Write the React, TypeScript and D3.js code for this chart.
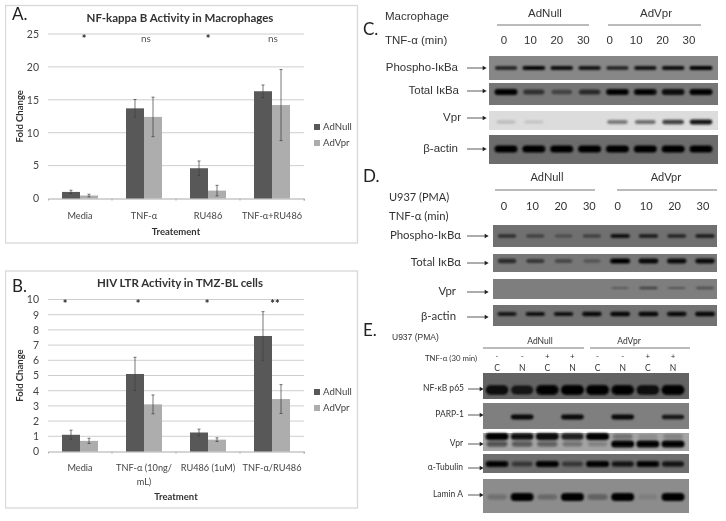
import { useEffect, useRef } from 'react';
import * as d3 from 'd3';

const W = 726
const H = 521

// panel A
const catsA = ['Media', 'TNF-α', 'RU486', 'TNF-α+RU486']
const nullA = [1, 13.7, 4.6, 16.3]
const vprA = [0.45, 12.4, 1.2, 14.2]
const nullErrA = [0.25, 1.35, 1.1, 0.95]
const vprErrA = [0.2, 3, 0.8, 5.4]
const sigA = ['*', 'ns', '*', 'ns']

// panel B
const catsB = ['Media', 'TNF-α (10ng/\nmL)', 'RU486 (1uM)', 'TNF-α/RU486']
const nullB = [1.1, 5.1, 1.25, 7.6]
const vprB = [0.7, 3.1, 0.78, 3.45]
const nullErrB = [0.3, 1.1, 0.22, 1.6]
const vprErrB = [0.17, 0.62, 0.12, 0.95]
const sigB = ['*', '*', '*', '**']

// blot lanes, band strength 0-1 by lane
const minutes = ['0', '10', '20', '30', '0', '10', '20', '30']
const signsE = ['-', '-', '+', '+', '-', '-', '+', '+']
const fractionsE = ['C', 'N', 'C', 'N', 'C', 'N', 'C', 'N']

const phosphoC = [0.8, 0.95, 0.9, 0.85, 0.8, 0.85, 0.9, 1]
const totalC = [1, 0.6, 0.45, 0.65, 0.95, 0.95, 0.9, 1]
const vprC = [0.15, 0.12, 0, 0, 0.45, 0.5, 0.7, 0.9]
const actinC = [1, 1, 1, 1, 1, 1, 1, 1]

const phosphoD = [0.6, 0.5, 0.35, 0.5, 0.85, 0.8, 0.7, 0.8]
const totalD = [0.65, 0.55, 0.4, 0.3, 1, 0.95, 0.9, 0.9]
const vprD = [0, 0, 0, 0, 0.3, 0.5, 0.35, 0.4]
const actinD = [0.8, 0.85, 0.85, 0.9, 0.95, 0.95, 0.9, 0.95]

const p65E = [0.9, 0.8, 0.95, 1, 1, 0.95, 0.9, 1]
const parpE = [0, 0.95, 0, 0.95, 0, 0.95, 0, 0.85]
const vprE = [0.5, 0.45, 0.4, 0.3, 0.2, 1, 1, 1]
const vprTopE = [1, 0.9, 0.95, 0.8, 1, 0.3, 0.15, 0.2]
const tubulinE = [0.95, 0.5, 1, 0.5, 1, 0.8, 0.95, 0.8]
const laminE = [0.2, 1, 0.25, 1, 0.3, 1, 0.1, 1]

interface ChartProps {
  top: number
  bottom: number
  boxTop: number
  boxBottom: number
  yMax: number
  ticks: number
  cats: string[]
  a: number[]
  b: number[]
  aErr: number[]
  bErr: number[]
  sig: string[]
  sigDx: number[]
  sigY: number
  title: string
  titleY: number
  letter: string
  letterY: number
  xLabel: string
  xLabelY: number
  catY: number
  legendY: number
}

const BarChart = (p: ChartProps) => {
  const ref = useRef<SVGGElement>(null)

  useEffect(() => {
    if (!ref.current) return
    const svg = d3.select(ref.current)
    svg.selectAll('*').remove()

    const x = d3.scaleBand().domain(p.cats).range([48, 304])
    const inner = d3.scaleBand().domain(['a', 'b']).range([0, 36])
    const y = d3.scaleLinear().domain([0, p.yMax]).range([p.bottom, p.top])
    const mid = (c: string) => (x(c) as number) + x.bandwidth() / 2

    // outer box
    svg.append('rect')
      .attr('x', 5.5).attr('y', p.boxTop)
      .attr('width', 352).attr('height', p.boxBottom - p.boxTop)
      .attr('fill', 'white').attr('stroke', '#d8d8d8').attr('stroke-width', 1.3)

    // gridlines
    svg.selectAll('.grid')
      .data(y.ticks(p.ticks).filter(d => d > 0))
      .enter().append('line')
      .attr('x1', 48).attr('x2', 304)
      .attr('y1', d => y(d)).attr('y2', d => y(d))
      .attr('stroke', '#c8c8c8').attr('stroke-width', 0.9)

    // y axis
    const yAxis = d3.axisLeft(y).ticks(p.ticks).tickSize(0).tickPadding(9)
    const yg = svg.append('g').attr('transform', 'translate(48,0)').call(yAxis)
    yg.select('.domain').remove()
    yg.selectAll('text')
      .attr('font-family', 'Lato').attr('font-size', 10.5).attr('fill', '#444')

    // x axis
    const xAxis = d3.axisBottom(x).tickSize(2).tickFormat(() => '')
    const xg = svg.append('g').attr('transform', `translate(0,${p.bottom})`).call(xAxis)
    xg.select('.domain').attr('stroke', '#aaa')
    xg.selectAll('.tick line').attr('stroke', '#aaa').attr('transform', `translate(${x.bandwidth() / 2},0)`)

    // bars and error bars
    const series = [
      { key: 'a', vals: p.a, errs: p.aErr, color: '#595959' },
      { key: 'b', vals: p.b, errs: p.bErr, color: '#adadad' },
    ]
    series.forEach(s => {
      const off = (i: number) => (x(p.cats[i]) as number) + 14 + (inner(s.key) as number)
      svg.append('g').selectAll('rect')
        .data(s.vals)
        .enter().append('rect')
        .attr('x', (_, i) => off(i))
        .attr('y', d => y(d))
        .attr('width', inner.bandwidth())
        .attr('height', d => p.bottom - y(d))
        .attr('fill', s.color)

      const cx = (i: number) => off(i) + inner.bandwidth() / 2
      const err = svg.append('g').attr('stroke', '#3c3c3c').attr('stroke-width', 0.7)
      s.vals.forEach((v, i) => {
        const hi = y(v + s.errs[i])
        const lo = y(v - s.errs[i])
        err.append('line').attr('x1', cx(i)).attr('x2', cx(i)).attr('y1', hi).attr('y2', lo)
        err.append('line').attr('x1', cx(i) - 1.5).attr('x2', cx(i) + 1.5).attr('y1', hi).attr('y2', hi)
        err.append('line').attr('x1', cx(i) - 1.5).attr('x2', cx(i) + 1.5).attr('y1', lo).attr('y2', lo)
      })
    })

    // significance marks
    p.sig.forEach((s, i) => {
      svg.append('text')
        .attr('x', mid(p.cats[i]) + p.sigDx[i])
        .attr('y', s === 'ns' ? p.sigY + 4 : p.sigY + 5)
        .attr('text-anchor', 'middle')
        .attr('font-family', 'Lato')
        .attr('font-size', s === 'ns' ? 10 : 11)
        .attr('font-weight', s === 'ns' ? 400 : 700)
        .attr('fill', s === 'ns' ? '#555' : '#222')
        .text(s)
    })

    // category labels
    p.cats.forEach(c => {
      c.split('\n').forEach((line, i) => {
        svg.append('text')
          .attr('x', mid(c)).attr('y', p.catY + i * 14)
          .attr('dy', '0.35em')
          .attr('text-anchor', 'middle')
          .attr('font-family', 'Lato').attr('font-size', 9.2)
          .attr('fill', '#444')
          .text(line)
      })
    })

    // titles
    const bold = (sel: d3.Selection<SVGTextElement, unknown, null, undefined>, size: number) =>
      sel.attr('font-family', 'Lato').attr('font-weight', 700)
        .attr('font-size', size).attr('fill', '#333').attr('text-anchor', 'middle')

    bold(svg.append('text').attr('x', 180).attr('y', p.titleY).attr('dy', '0.35em'), 11.5).text(p.title)
    bold(svg.append('text').attr('x', 176).attr('y', p.xLabelY).attr('dy', '0.35em'), 9.5).text(p.xLabel)
    bold(svg.append('text').attr('transform', `translate(20,${(p.top + p.bottom) / 2}) rotate(-90)`).attr('dy', '0.35em'), 9.5)
      .text('Fold Change')

    svg.append('text')
      .attr('x', 12).attr('y', p.letterY)
      .attr('font-family', 'Lato').attr('font-size', 17).attr('fill', '#222')
      .text(p.letter)

    // legend
    series.forEach((s, i) => {
      const ly = p.legendY + i * 16
      svg.append('rect').attr('x', 314).attr('y', ly - 3).attr('width', 6).attr('height', 6).attr('fill', s.color)
      svg.append('text').attr('x', 323).attr('y', ly).attr('dy', '0.35em')
        .attr('font-family', 'Lato').attr('font-size', 9.6).attr('fill', '#444')
        .text(i === 0 ? 'AdNull' : 'AdVpr')
    })
  }, [])

  return <g ref={ref} />
}

interface Row {
  label: string
  top: number
  bottom: number
  bandY: number
  labelY: number
  labelEnd: number
  bg: string
  vals: number[]
  thick?: number
  extra?: number[]
  extraY?: number
}

interface BlotProps {
  font: string
  labelSize: number
  x0: number
  x1: number
  laneFrom: number
  laneTo: number
  bandW: number
  arrow: [number, number]
  rows: Row[]
}

const Blot = ({ font, labelSize, x0, x1, laneFrom, laneTo, bandW, arrow, rows }: BlotProps) => {
  const ref = useRef<SVGGElement>(null)

  useEffect(() => {
    if (!ref.current) return
    const svg = d3.select(ref.current)
    svg.selectAll('*').remove()

    const lane = d3.scalePoint<number>().domain(d3.range(8)).range([laneFrom, laneTo])

    rows.forEach(r => {
      const g = svg.append('g')
      g.append('rect')
        .attr('x', x0).attr('y', r.top)
        .attr('width', x1 - x0).attr('height', r.bottom - r.top)
        .attr('fill', r.bg)

      const bands = g.append('g').attr('filter', 'url(#bandBlur)')
      const thick = r.thick ?? 4
      const draw = (vals: number[], cy: number, h: number) => {
        bands.selectAll(null)
          .data(vals.map((v, i) => ({ v, i })).filter(d => d.v > 0))
          .enter().append('rect')
          .attr('x', d => (lane(d.i) as number) - bandW / 2 * (0.82 + 0.18 * d.v))
          .attr('width', d => bandW * (0.82 + 0.18 * d.v))
          .attr('y', d => cy - h / 2 * (0.6 + 0.4 * d.v))
          .attr('height', d => h * (0.6 + 0.4 * d.v))
          .attr('rx', h / 2)
          .attr('fill', '#050505')
          .attr('opacity', d => d.v)
      }
      draw(r.vals, r.bandY, thick)
      if (r.extra) draw(r.extra, r.extraY as number, thick)

      g.append('text')
        .attr('x', r.labelEnd).attr('y', r.labelY).attr('dy', '0.35em')
        .attr('text-anchor', 'end')
        .attr('font-family', font).attr('font-size', labelSize).attr('fill', '#333')
        .text(r.label)

      // arrow
      g.append('line')
        .attr('x1', arrow[0]).attr('x2', arrow[1])
        .attr('y1', r.labelY + 1).attr('y2', r.labelY + 1)
        .attr('stroke', '#333').attr('stroke-width', 0.8)
      g.append('path')
        .attr('d', d3.symbol(d3.symbolTriangle, 9))
        .attr('transform', `translate(${arrow[1]},${r.labelY + 1}) rotate(90)`)
        .attr('fill', '#222')
    })
  }, [])

  return <g ref={ref} />
}

const Txt = ({ x, y, s, size, font, anchor = 'middle', fill = '#333' }:
  { x: number, y: number, s: string, size: number, font: string, anchor?: string, fill?: string }) => (
  <text x={x} y={y} dy="0.35em" textAnchor={anchor} fontFamily={font} fontSize={size} fill={fill}>{s}</text>
)

const Rule = ({ x1, x2, y }: { x1: number, x2: number, y: number }) => (
  <line x1={x1} x2={x2} y1={y} y2={y} stroke="#777" strokeWidth={1} />
)

const arial = 'Liberation Sans'

const laneLabelsC = d3.scalePoint<number>().domain(d3.range(8)).range([504, 689])
const laneLabelsD = d3.scalePoint<number>().domain(d3.range(8)).range([504, 703])
const laneLabelsE = d3.scalePoint<number>().domain(d3.range(8)).range([497, 673])

export default function App() {
  return (
    <svg width={W} height={H} style={{ position: 'absolute', left: 0, top: 0, background: 'white' }}>
      <defs>
        <filter id="bandBlur" x="-20%" y="-50%" width="140%" height="200%">
          <feGaussianBlur stdDeviation="0.8" />
        </filter>
        <filter id="soft" x="0" y="0" width="100%" height="100%">
          <feGaussianBlur stdDeviation="0.35" />
        </filter>
      </defs>
      <g filter="url(#soft)">
        <BarChart top={34} bottom={198.5} boxTop={5.5} boxBottom={243} yMax={25} ticks={5}
          cats={catsA} a={nullA} b={vprA} aErr={nullErrA} bErr={vprErrA}
          sig={sigA} sigDx={[4, 2, 0, 1]} sigY={38}
          title="NF-kappa B Activity in Macrophages" titleY={18} letter="A." letterY={20}
          xLabel="Treatement" xLabelY={232} catY={216} legendY={127} />
        <BarChart top={299.5} bottom={451.5} boxTop={271} boxBottom={508} yMax={10} ticks={10}
          cats={catsB} a={nullB} b={vprB} aErr={nullErrB} bErr={vprErrB}
          sig={sigB} sigDx={[-15, -6, -1, 3]} sigY={303}
          title="HIV LTR Activity in TMZ-BL cells" titleY={283} letter="B." letterY={292}
          xLabel="Treatment" xLabelY={497} catY={468} legendY={392} />

        {/* C */}
        <Txt x={363} y={29} s="C." size={17} font="Lato" anchor="start" fill="#222" />
        <Txt x={385} y={16} s="Macrophage" size={11.5} font={arial} anchor="start" />
        <Txt x={385} y={40} s="TNF-α (min)" size={11.5} font={arial} anchor="start" />
        <Txt x={545} y={13} s="AdNull" size={11.5} font={arial} />
        <Txt x={656} y={13} s="AdVpr" size={11.5} font={arial} />
        <Rule x1={497} x2={589} y={25} />
        <Rule x1={608} x2={701} y={25} />
        {minutes.map((m, i) => (
          <Txt key={i} x={laneLabelsC(i) as number} y={40} s={m} size={11.5} font={arial} />
        ))}
        <Blot font={arial} labelSize={11.5} x0={489} x1={718} laneFrom={506} laneTo={701} bandW={23} arrow={[467, 484]}
          rows={[
            { label: 'Phospho-IκBa', top: 56, bottom: 80, bandY: 68, labelY: 67, labelEnd: 458, bg: '#878787', vals: phosphoC, thick: 4 },
            { label: 'Total IκBa', top: 83, bottom: 105, bandY: 92, labelY: 90, labelEnd: 459, bg: '#767676', vals: totalC, thick: 6 },
            { label: 'Vpr', top: 111, bottom: 130, bandY: 122, labelY: 117, labelEnd: 461, bg: '#dcdcdc', vals: vprC, thick: 5 },
            { label: 'β-actin', top: 135, bottom: 164, bandY: 149, labelY: 148, labelEnd: 458, bg: '#6c6c6c', vals: actinC, thick: 7 },
          ]} />

        {/* D */}
        <Txt x={363} y={176} s="D." size={17} font="Lato" anchor="start" fill="#222" />
        <Txt x={389} y={197} s="U937 (PMA)" size={11} font="Lato" anchor="start" />
        <Txt x={389} y={216} s="TNF-α (min)" size={11.3} font="Lato" anchor="start" />
        <Txt x={547} y={177} s="AdNull" size={11} font="Lato" />
        <Txt x={666} y={177} s="AdVpr" size={11} font="Lato" />
        <Rule x1={495} x2={595} y={190} />
        <Rule x1={617} x2={717} y={190} />
        {minutes.map((m, i) => (
          <Txt key={i} x={laneLabelsD(i) as number} y={206} s={m} size={11} font="Lato" />
        ))}
        <Blot font="Lato" labelSize={11.4} x0={493} x1={717} laneFrom={507} laneTo={705} bandW={20} arrow={[467, 486]}
          rows={[
            { label: 'Phospho-IκBα', top: 225, bottom: 247, bandY: 236, labelY: 235, labelEnd: 461, bg: '#707070', vals: phosphoD, thick: 4 },
            { label: 'Total IκBα', top: 254, bottom: 272, bandY: 261, labelY: 262, labelEnd: 461, bg: '#777777', vals: totalD, thick: 5 },
            { label: 'Vpr', top: 279, bottom: 299, bandY: 288, labelY: 291, labelEnd: 456, bg: '#7e7e7e', vals: vprD, thick: 3 },
            { label: 'β-actin', top: 305, bottom: 326, bandY: 314, labelY: 316, labelEnd: 456, bg: '#727272', vals: actinD, thick: 4.5 },
          ]} />

        {/* E */}
        <Txt x={363} y={330} s="E." size={17} font="Lato" anchor="start" fill="#222" />
        <Txt x={392} y={337} s="U937 (PMA)" size={8.5} font={arial} anchor="start" />
        <Txt x={540} y={341} s="AdNull" size={8.5} font="Lato" />
        <Txt x={629} y={341} s="AdVpr" size={8.5} font="Lato" />
        <Rule x1={483} x2={584} y={348} />
        <Rule x1={590} x2={690} y={348} />
        <Txt x={425} y={358} s="TNF-α  (30 min)" size={7.8} font="Lato" anchor="start" />
        {signsE.map((m, i) => (
          <Txt key={i} x={laneLabelsE(i) as number} y={356.5} s={m} size={8} font="Lato" />
        ))}
        {fractionsE.map((m, i) => (
          <Txt key={i} x={laneLabelsE(i) as number} y={368} s={m} size={8.5} font="Lato" />
        ))}
        <Blot font="Lato" labelSize={8.5} x0={483} x1={689} laneFrom={497} laneTo={673} bandW={23} arrow={[468, 481]}
          rows={[
            { label: 'NF-κB p65', top: 373, bottom: 399, bandY: 390, labelY: 388, labelEnd: 464, bg: '#636363', vals: p65E, thick: 10 },
            { label: 'PARP-1', top: 403, bottom: 429, bandY: 417, labelY: 414, labelEnd: 464, bg: '#7f7f7f', vals: parpE, thick: 5 },
            { label: 'Vpr', top: 433, bottom: 451, bandY: 444, labelY: 443, labelEnd: 463, bg: '#a4a4a4', vals: vprE, thick: 7, extra: vprTopE, extraY: 436.5 },
            { label: 'α-Tubulin', top: 454, bottom: 473, bandY: 464, labelY: 467, labelEnd: 463, bg: '#6e6e6e', vals: tubulinE, thick: 6 },
            { label: 'Lamin A', top: 479, bottom: 513, bandY: 497, labelY: 494, labelEnd: 463, bg: '#8c8c8c', vals: laminE, thick: 8 },
          ]} />
      </g>
    </svg>
  )
}
